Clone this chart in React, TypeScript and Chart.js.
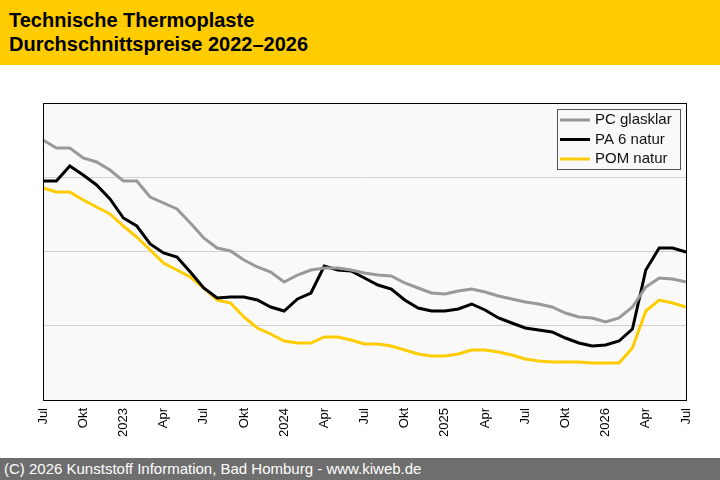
import React, { useEffect, useRef } from "react";
import { Chart, registerables } from "chart.js";
Chart.register(...registerables);

const months = ["Jul","Aug","Sep","Okt","Nov","Dez","Jan","Feb","Mär","Apr","Mai","Jun"];
const startYear = 2022;
const categories: string[] = [];
for (let i = 0; i < 49; i++) {
  const m = months[i % 12];
  const y = startYear + Math.floor((i + 6) / 12);
  categories.push(m === "Jan" ? String(y) : m);
}
const pcGlasklar = [260,252,252,242,238,230,219,219,203,197,191,177,162,152,149,140,133,128,118,125,130,132,132,130,127,125,124,117,112,107,106,109,111,108,104,101,98,96,93,87,83,82,78,82,93,113,122,121,118];
const pa6Natur = [219,219,234,225,215,201,182,174,156,147,143,128,112,102,103,103,100,93,89,101,107,134,130,129,122,115,111,100,92,89,89,91,96,90,82,77,72,70,68,62,57,54,55,59,71,130,152,152,148];
const pomNatur = [212,208,208,200,193,186,174,163,150,137,130,123,112,100,97,83,72,66,59,57,57,63,63,60,56,56,54,50,46,44,44,46,50,50,48,45,41,39,38,38,38,37,37,37,52,89,100,97,93];
const shownTicks = ["Jul","Okt","Apr"];

export default function App() {
  const ref = useRef<HTMLCanvasElement>(null);
  useEffect(() => {
    document.body.style.margin = "0";
    const frame = {
      id: "frame",
      beforeDraw(c: any) {
        const a = c.chartArea, ctx = c.ctx;
        ctx.save(); ctx.fillStyle = "#f9f9f9";
        ctx.fillRect(a.left, a.top, a.right - a.left, a.bottom - a.top); ctx.restore();
      },
      afterDraw(c: any) {
        const a = c.chartArea, ctx = c.ctx;
        ctx.save();
        ctx.strokeStyle = "#000"; ctx.lineWidth = 1;
        ctx.strokeRect(a.left + 0.5, a.top + 0.5, a.right - a.left, a.bottom - a.top);
        const bx = a.right - 129, by = a.top + 6, bw = 123, bh = 60;
        ctx.fillStyle = "#f9f9f9"; ctx.fillRect(bx, by, bw, bh);
        ctx.strokeStyle = "#555"; ctx.strokeRect(bx + 0.5, by + 0.5, bw, bh);
        ctx.font = "15px 'Liberation Sans', Arial, sans-serif";
        ctx.textBaseline = "middle";
        c.data.datasets.forEach((d: any, i: number) => {
          const yy = by + 11 + i * 19.5;
          ctx.strokeStyle = d.borderColor; ctx.lineWidth = 3;
          ctx.beginPath(); ctx.moveTo(bx + 3, yy); ctx.lineTo(bx + 33, yy); ctx.stroke();
          ctx.fillStyle = "#111"; ctx.fillText(d.label, bx + 38, yy);
        });
        ctx.restore();
      },
    };
    const chart = new Chart(ref.current!, {
      type: "line",
      data: {
        labels: categories,
        datasets: [
          { label: "PC glasklar", data: pcGlasklar, borderColor: "#999999", borderWidth: 3, pointRadius: 0, tension: 0 },
          { label: "PA 6 natur", data: pa6Natur, borderColor: "#000000", borderWidth: 3, pointRadius: 0, tension: 0 },
          { label: "POM natur", data: pomNatur, borderColor: "#ffcc00", borderWidth: 3, pointRadius: 0, tension: 0 },
        ],
      },
      options: {
        animation: false, responsive: false,
        layout: { padding: { top: 38, left: 43, right: 34, bottom: 0 } },
        plugins: { legend: { display: false }, tooltip: { enabled: false } },
        scales: {
          x: {
            grid: { display: false, drawTicks: true, tickLength: 5 },
            border: { display: false },
            afterFit(s: any) { s.height = 58; },
            ticks: {
              autoSkip: false, minRotation: 90, maxRotation: 90, color: "#000",
              font: { size: 13, family: "'Liberation Sans', Arial, sans-serif" },
              callback: (_v: any, i: number) => {
                const l = categories[i];
                return shownTicks.includes(l) || /^\d{4}$/.test(l) ? l : "";
              },
            },
          },
          y: {
            min: 0, max: 297,
            afterFit(s: any) { s.width = 0; },
            ticks: { display: false, stepSize: 74.25 },
            grid: { color: "#d0d0d0", drawTicks: false },
            border: { display: false },
          },
        },
      },
      plugins: [frame],
    });
    return () => chart.destroy();
  }, []);
  return (
    <div style={{ width: 720, height: 480, position: "relative", fontFamily: "'Liberation Sans', Arial, sans-serif", background: "#fff" }}>
      <div style={{ height: 65, background: "#ffcc00", padding: "8px 0 0 9px", boxSizing: "border-box", fontWeight: "bold", fontSize: 20, lineHeight: "24px", color: "#000" }}>
        Technische Thermoplaste<br />Durchschnittspreise 2022–2026
      </div>
      <canvas ref={ref} width={720} height={393} style={{ display: "block" }} />
      <div style={{ height: 22, background: "#6e6e6e", color: "#fff", fontSize: 15, lineHeight: "22px", paddingLeft: 4 }}>
        (C) 2026 Kunststoff Information, Bad Homburg - www.kiweb.de
      </div>
    </div>
  );
}
